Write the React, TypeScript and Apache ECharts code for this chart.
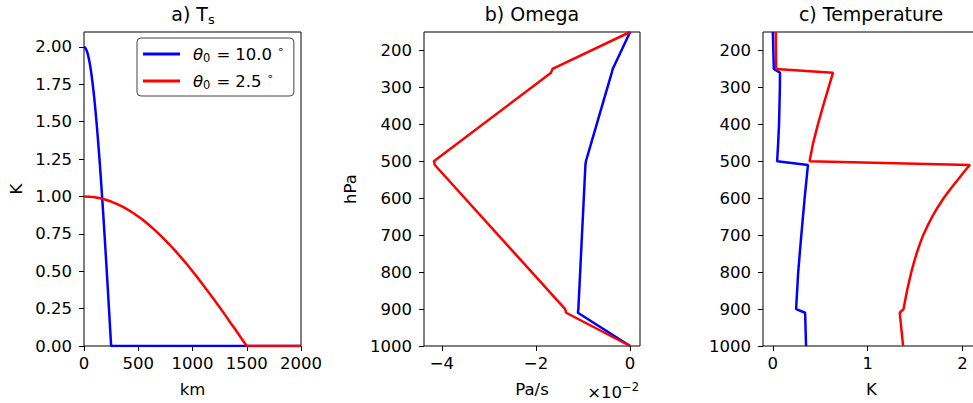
import React, { useEffect, useRef } from 'react';
import * as echarts from 'echarts';

// ---------- data ----------
// a) surface temperature perturbation (K) vs distance (km)
const tsKmBlue = [0, 10, 20, 30, 40, 50, 60, 70, 80, 90, 100, 110, 120, 130, 140, 150, 160, 170, 180, 190, 200, 210, 220, 230, 240, 250, 2000];
const tsBlue = [2.0, 1.996, 1.984, 1.965, 1.937, 1.902, 1.86, 1.81, 1.753, 1.689, 1.618, 1.541, 1.458, 1.369, 1.275, 1.176, 1.072, 0.964, 0.852, 0.736, 0.618, 0.497, 0.375, 0.251, 0.126, 0.0, 0.0];
const tsKmRed = [0, 50, 100, 150, 200, 250, 300, 350, 400, 450, 500, 550, 600, 650, 700, 750, 800, 850, 900, 950, 1000, 1050, 1100, 1150, 1200, 1250, 1300, 1350, 1400, 1450, 1500, 2000];
const tsRed = [1.0, 0.999, 0.995, 0.988, 0.978, 0.966, 0.951, 0.934, 0.914, 0.891, 0.866, 0.839, 0.809, 0.777, 0.743, 0.707, 0.669, 0.629, 0.588, 0.545, 0.5, 0.454, 0.407, 0.358, 0.309, 0.259, 0.208, 0.156, 0.105, 0.052, 0.0, 0.0];

// b) omega profile (units of 1e-2 Pa/s) vs pressure (hPa)
const omegaP = [150, 250, 260, 500, 510, 900, 910, 1000];
const omegaBlue = [0, -0.37, -0.39, -0.94, -0.95, -1.1, -1.11, 0];
const omegaRed = [0, -1.65, -1.68, -4.17, -4.15, -1.38, -1.36, 0];

// c) temperature profile (K) vs pressure (hPa)
const tempPBlue = [150, 250, 260, 300, 400, 450, 500, 510, 600, 700, 800, 900, 910, 1000];
const tempBlue = [0.0, 0.01, 0.075, 0.074, 0.065, 0.056, 0.045, 0.37, 0.335, 0.3, 0.267, 0.245, 0.34, 0.35];
const tempPRed = [150, 250, 260, 300, 350, 400, 450, 500, 510, 525, 550, 575, 600, 625, 650, 675, 700, 725, 750, 775, 800, 825, 850, 875, 900, 910, 1000];
const tempRed = [0.03, 0.035, 0.634, 0.588, 0.53, 0.475, 0.425, 0.387, 2.077, 2.027, 1.95, 1.872, 1.8, 1.737, 1.68, 1.63, 1.585, 1.548, 1.515, 1.486, 1.46, 1.437, 1.415, 1.396, 1.378, 1.338, 1.373];

// tick labels
const kmTicks = [0, 500, 1000, 1500, 2000];
const kTicks = [0, 0.25, 0.5, 0.75, 1.0, 1.25, 1.5, 1.75, 2.0];
const pTicks = [200, 300, 400, 500, 600, 700, 800, 900, 1000];
const omegaTicks = [-4, -2, 0];
const tempTicks = [0, 1, 2];

const NAME_A = 'θ0 = 10.0°';
const NAME_B = 'θ0 = 2.5°';
const BLUE = '#0000ff';
const RED = '#ff0000';
const FONT = 'DejaVu Sans';
const FS = 16.5;

const zip = (xs: number[], ys: number[]) => xs.map((x, i) => [x, ys[i]]);
const minus = (v: number, d: number) => {
  const s = Math.abs(v).toFixed(d);
  return v < -1e-9 ? '\u2212' + s : s;
};

function baseAxis(extra: any) {
  return {
    type: 'value',
    axisLine: { show: false, onZero: false },
    splitLine: { show: false },
    nameTextStyle: { color: '#000', fontFamily: FONT, fontSize: FS },
    ...extra,
    axisTick: { show: true, length: 5, inside: false, lineStyle: { color: '#000', width: 1 }, ...(extra.axisTick || {}) },
    axisLabel: { color: '#000', fontFamily: FONT, fontSize: FS, ...(extra.axisLabel || {}) },
  };
}

export default function App() {
  const ref = useRef<HTMLDivElement>(null);
  useEffect(() => {
    if (!ref.current) return;
    const chart = echarts.init(ref.current, null, { renderer: 'svg' });
    const gridCommon = { top: 32, height: 316, show: true, borderColor: '#000', borderWidth: 1, containLabel: false };
    const lineCommon = { type: 'line', symbol: 'none', showSymbol: false, lineStyle: { width: 2.5 } };
    const richBase = { fontFamily: FONT, color: '#000' };
    const option: any = {
      animation: false,
      backgroundColor: '#fff',
      grid: [
        { ...gridCommon, left: 84, width: 217 },
        { ...gridCommon, left: 424, width: 216 },
        { ...gridCommon, left: 763, width: 217 },
      ],
      xAxis: [
        baseAxis({
          gridIndex: 0, min: 0, max: 2000, name: 'km', nameLocation: 'middle', nameGap: 35,
          axisTick: { customValues: kmTicks },
          axisLabel: { margin: 9, customValues: kmTicks, formatter: (v: number) => String(v) },
        }),
        baseAxis({
          gridIndex: 1, min: -4.38, max: 0.21, name: 'Pa/s', nameLocation: 'middle', nameGap: 35,
          axisTick: { customValues: omegaTicks },
          axisLabel: { margin: 9, customValues: omegaTicks, formatter: (v: number) => minus(v, 0) },
        }),
        baseAxis({
          gridIndex: 2, min: -0.104, max: 2.184, name: 'K', nameLocation: 'middle', nameGap: 35,
          axisTick: { customValues: tempTicks },
          axisLabel: { margin: 9, customValues: tempTicks, formatter: (v: number) => minus(v, 0) },
        }),
      ],
      yAxis: [
        baseAxis({
          gridIndex: 0, min: 0, max: 2.1, name: 'K', nameLocation: 'middle', nameGap: 59,
          axisTick: { customValues: kTicks },
          axisLabel: { margin: 12, customValues: kTicks, formatter: (v: number) => v.toFixed(2) },
        }),
        baseAxis({
          gridIndex: 1, min: 150, max: 1000, inverse: true, name: 'hPa', nameLocation: 'middle', nameGap: 65,
          axisTick: { customValues: pTicks },
          axisLabel: { margin: 12, customValues: pTicks, formatter: (v: number) => String(v) },
        }),
        baseAxis({
          gridIndex: 2, min: 150, max: 1000, inverse: true,
          axisTick: { customValues: pTicks },
          axisLabel: { margin: 12, customValues: pTicks, formatter: (v: number) => String(v) },
        }),
      ],
      legend: {
        data: [NAME_A, NAME_B],
        orient: 'vertical',
        left: 137,
        top: 38,
        padding: [6, 10, 5, 6],
        itemGap: 7,
        itemWidth: 37,
        itemHeight: 3,
        icon: 'rect',
        borderColor: '#444',
        borderWidth: 1,
        borderRadius: 4,
        backgroundColor: 'rgba(255,255,255,0.8)',
        formatter: (name: string) =>
          name === NAME_A
            ? '{th|θ}{sb|0}{eq|=}{n|10.0}{sp|∘}'
            : '{th|θ}{sb|0}{eq|=}{n|2.5}{sp|∘}',
        textStyle: {
          color: '#000',
          fontFamily: FONT,
          fontSize: FS,
          rich: {
            th: { ...richBase, fontStyle: 'italic', fontSize: FS, lineHeight: 20, padding: [0, 0, 0, 8] },
            sb: { ...richBase, fontSize: 11.5, lineHeight: 11, verticalAlign: 'bottom' },
            eq: { ...richBase, fontSize: FS, lineHeight: 20, padding: [0, 5, 0, 6] },
            n: { ...richBase, fontSize: FS, lineHeight: 20, padding: [0, 5, 0, 0] },
            sp: { ...richBase, fontSize: 11, lineHeight: 10, verticalAlign: 'top' },
          },
        },
      },
      graphic: [
        {
          type: 'text', x: 193, y: 2,
          style: {
            text: '{t|a) T}{s|s}', align: 'center', verticalAlign: 'top',
            rich: {
              t: { fontFamily: FONT, fontSize: 19, lineHeight: 24, fill: '#000' },
              s: { fontFamily: FONT, fontSize: 13, lineHeight: 13, verticalAlign: 'bottom', fill: '#000' },
            },
          },
        },
        {
          type: 'text', x: 532, y: 2,
          style: { text: 'b) Omega', align: 'center', verticalAlign: 'top', fontFamily: FONT, fontSize: 19, lineHeight: 24, fill: '#000' },
        },
        {
          type: 'text', x: 871, y: 2,
          style: { text: 'c) Temperature', align: 'center', verticalAlign: 'top', fontFamily: FONT, fontSize: 19, lineHeight: 24, fill: '#000' },
        },
        {
          type: 'text', x: 639, y: 381,
          style: {
            text: '{b|×10}{p|\u22122}', align: 'right', verticalAlign: 'top',
            rich: {
              b: { fontFamily: FONT, fontSize: FS, lineHeight: 22, fill: '#000' },
              p: { fontFamily: FONT, fontSize: 11.5, lineHeight: 11, verticalAlign: 'top', fill: '#000' },
            },
          },
        },
      ],
      series: [
        { ...lineCommon, name: NAME_A, xAxisIndex: 0, yAxisIndex: 0, color: BLUE, data: zip(tsKmBlue, tsBlue) },
        { ...lineCommon, name: NAME_B, xAxisIndex: 0, yAxisIndex: 0, color: RED, data: zip(tsKmRed, tsRed) },
        { ...lineCommon, name: NAME_A, xAxisIndex: 1, yAxisIndex: 1, color: BLUE, data: zip(omegaBlue, omegaP) },
        { ...lineCommon, name: NAME_B, xAxisIndex: 1, yAxisIndex: 1, color: RED, data: zip(omegaRed, omegaP) },
        { ...lineCommon, name: NAME_A, xAxisIndex: 2, yAxisIndex: 2, color: BLUE, data: zip(tempBlue, tempPBlue) },
        { ...lineCommon, name: NAME_B, xAxisIndex: 2, yAxisIndex: 2, color: RED, data: zip(tempRed, tempPRed) },
      ],
    };
    chart.setOption(option);
    return () => chart.dispose();
  }, []);
  return (
    <div style={{ position: 'absolute', left: 0, top: 0, width: 973, height: 403, overflow: 'hidden', background: '#fff' }}>
      <div ref={ref} style={{ position: 'absolute', left: 0, top: 0, width: 990, height: 403 }} />
    </div>
  );
}
